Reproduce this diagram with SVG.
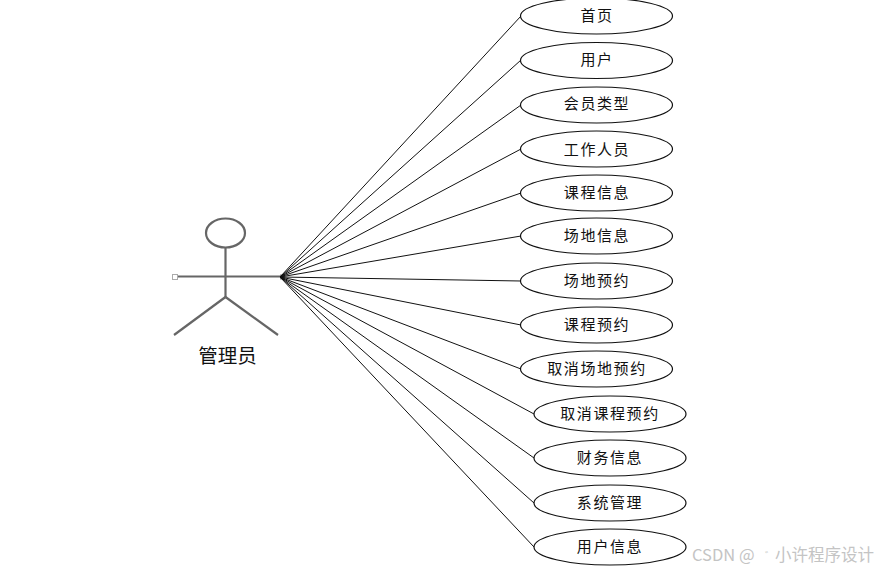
<svg xmlns="http://www.w3.org/2000/svg" width="877" height="570" viewBox="0 0 877 570">
<style>
.bg{fill:#fff}
.c line{stroke:#111;stroke-width:1;fill:none}
.n ellipse{fill:#fff;stroke:#111;stroke-width:1.2}
.n text{font-family:"Noto Sans CJK SC","Liberation Sans",sans-serif;font-size:15px;fill:#111;text-anchor:middle;letter-spacing:1.6px}
.a{stroke:#666;stroke-width:2.2;fill:none}
.h{fill:#fff;stroke:#aaa;stroke-width:1}
.w{font-family:"Noto Sans CJK SC","Liberation Sans",sans-serif;font-size:16.500px;fill:#c4c4c4}
</style>
<rect class="bg" width="877" height="570"/>
<g id="actor">
<ellipse class="a" cx="225.500" cy="233" rx="19.500" ry="14.500"/>
<line class="a" x1="225.500" y1="248" x2="225.500" y2="297"/>
<line class="a" x1="175" y1="276.500" x2="283" y2="276.500"/>
<line class="a" x1="225.500" y1="297" x2="174" y2="335"/>
<line class="a" x1="225.500" y1="297" x2="278" y2="335"/>
<rect class="h" x="172.500" y="274.500" width="5" height="5"/>
<rect x="280" y="274.500" width="5" height="5" fill="#888"/>
<text x="227.500" y="363" font-family="'Noto Sans CJK SC',sans-serif" font-size="19.500" text-anchor="middle" fill="#111">管理员</text>
</g>
<g id="connectors" class="c">
<line x1="280" y1="277" x2="521" y2="16"/>
<line x1="280" y1="277" x2="521" y2="60"/>
<line x1="280" y1="277" x2="521" y2="105"/>
<line x1="280" y1="277" x2="521" y2="149"/>
<line x1="280" y1="277" x2="521" y2="193"/>
<line x1="280" y1="277" x2="521" y2="236"/>
<line x1="280" y1="277" x2="521" y2="281"/>
<line x1="280" y1="277" x2="521" y2="325"/>
<line x1="280" y1="277" x2="521" y2="369"/>
<line x1="280" y1="277" x2="534" y2="414"/>
<line x1="280" y1="277" x2="534" y2="458"/>
<line x1="280" y1="277" x2="534" y2="503"/>
<line x1="280" y1="277" x2="534" y2="547"/>
</g>
<g id="n1" class="n"><ellipse cx="596.500" cy="16" rx="76" ry="18"/><text x="597" y="21">首页</text></g>
<g id="n2" class="n"><ellipse cx="596.500" cy="60.500" rx="76" ry="18"/><text x="597" y="65">用户</text></g>
<g id="n3" class="n"><ellipse cx="596.500" cy="105" rx="76" ry="18"/><text x="597" y="109">会员类型</text></g>
<g id="n4" class="n"><ellipse cx="596.500" cy="149" rx="76" ry="18"/><text x="597" y="155">工作人员</text></g>
<g id="n5" class="n"><ellipse cx="596.500" cy="193" rx="76" ry="18"/><text x="597" y="198">课程信息</text></g>
<g id="n6" class="n"><ellipse cx="596.500" cy="236" rx="76" ry="18"/><text x="597" y="241">场地信息</text></g>
<g id="n7" class="n"><ellipse cx="596.500" cy="281" rx="76" ry="18"/><text x="597" y="286">场地预约</text></g>
<g id="n8" class="n"><ellipse cx="596.500" cy="325" rx="76" ry="18"/><text x="597" y="330">课程预约</text></g>
<g id="n9" class="n"><ellipse cx="596.500" cy="369" rx="76" ry="18"/><text x="597" y="374">取消场地预约</text></g>
<g id="n10" class="n"><ellipse cx="610" cy="414" rx="76" ry="18"/><text x="610" y="419">取消课程预约</text></g>
<g id="n11" class="n"><ellipse cx="610" cy="458" rx="76" ry="18"/><text x="610" y="463">财务信息</text></g>
<g id="n12" class="n"><ellipse cx="610" cy="503" rx="76" ry="18"/><text x="610" y="508">系统管理</text></g>
<g id="n13" class="n"><ellipse cx="610" cy="547" rx="76" ry="18"/><text x="610" y="552">用户信息</text></g>
<text class="w" x="692" y="561">CSDN @<tspan x="765" dy="-1" font-size="10">゛</tspan><tspan x="775" dy="1">小许程序设计</tspan></text>
</svg>
